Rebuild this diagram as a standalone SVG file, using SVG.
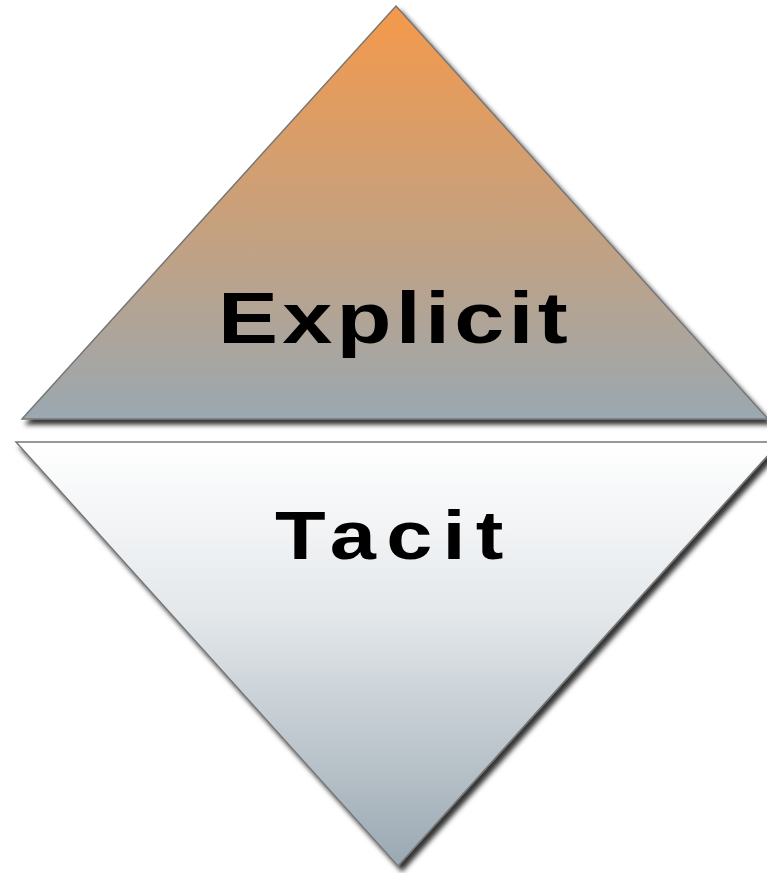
<svg xmlns="http://www.w3.org/2000/svg" width="767" height="873" viewBox="0 0 767 873">
<defs>
<linearGradient id="gTop" x1="0" y1="0" x2="0" y2="1">
<stop offset="0" stop-color="#F5994A"/>
<stop offset="0.55" stop-color="#C4A180"/>
<stop offset="1" stop-color="#9AA8B1"/>
</linearGradient>
<linearGradient id="gBot" x1="0" y1="0" x2="0" y2="1">
<stop offset="0" stop-color="#FFFFFF"/>
<stop offset="0.4" stop-color="#E4E8EB"/>
<stop offset="1" stop-color="#9AA8B2"/>
</linearGradient>
<filter id="sh" x="-10%" y="-10%" width="130%" height="130%">
<feDropShadow dx="4" dy="5" stdDeviation="2.4" flood-color="#000" flood-opacity="0.8"/>
</filter>
<style>
.tri{stroke:#777;stroke-width:1.5;filter:url(#sh)}
.lbl{font-family:"Liberation Sans",Arial,sans-serif;font-weight:bold;fill:#000}
</style>
</defs>
<g id="explicit">
<polygon class="tri" points="396,6 768,419 22,419" fill="url(#gTop)"/>
<text class="lbl" transform="translate(218,343) scale(1.25,1)" x="0" y="0" font-size="72" letter-spacing="3.4">Explicit</text>
</g>
<g id="tacit">
<polygon class="tri" points="16,442 780,442 398,866" fill="url(#gBot)"/>
<text class="lbl" transform="translate(275,559) scale(1.22,1)" x="0" y="0" font-size="68" letter-spacing="8.4">Tacit</text>
</g>
<g id="connectors"/>
</svg>
